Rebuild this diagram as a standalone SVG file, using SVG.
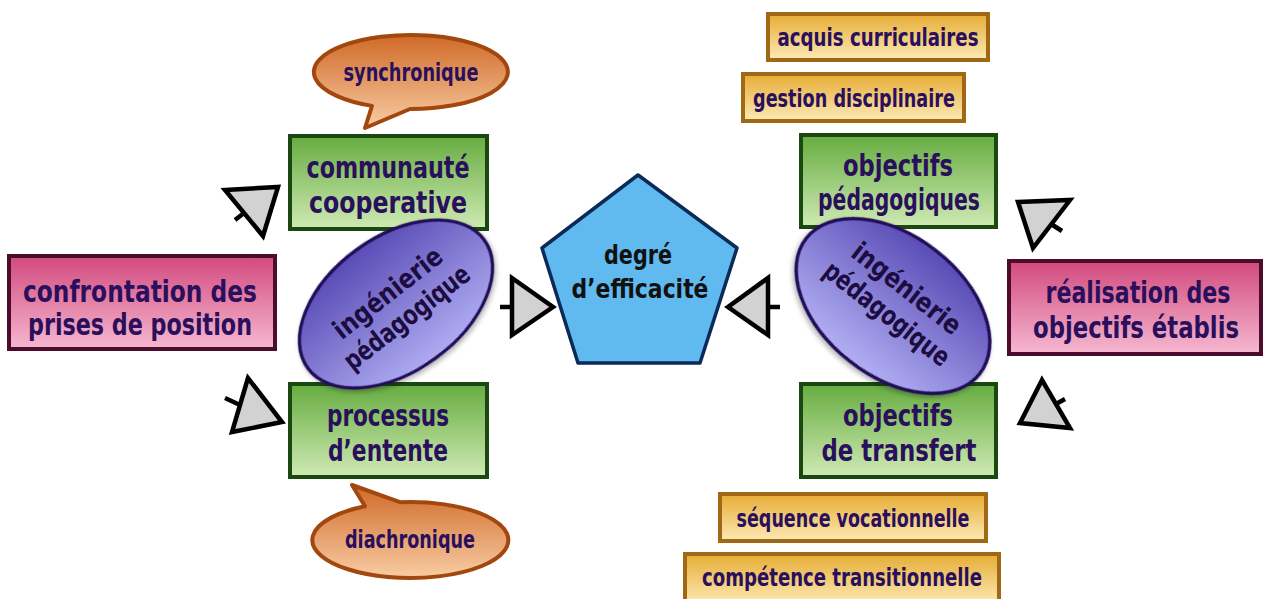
<svg xmlns="http://www.w3.org/2000/svg" width="1264" height="599" viewBox="0 0 1264 599">
<defs>
<linearGradient id="gGreen" x1="0" y1="0" x2="0" y2="1"><stop offset="0" stop-color="#66ac40"/><stop offset="1" stop-color="#cfeab4"/></linearGradient>
<linearGradient id="gPink" x1="0" y1="0" x2="0" y2="1"><stop offset="0" stop-color="#d24a7e"/><stop offset="1" stop-color="#f6b8d0"/></linearGradient>
<linearGradient id="gOrange" x1="0" y1="0" x2="0" y2="1"><stop offset="0" stop-color="#cf6a28"/><stop offset="1" stop-color="#f9cca4"/></linearGradient>
<linearGradient id="gGold" x1="0" y1="0" x2="0" y2="1"><stop offset="0" stop-color="#e6ac34"/><stop offset="1" stop-color="#fceab6"/></linearGradient>
<linearGradient id="gPurpleL" gradientUnits="userSpaceOnUse" x1="340" y1="235" x2="460" y2="380" gradientTransform="rotate(36 396 304)"><stop offset="0" stop-color="#4c3cac"/><stop offset="1" stop-color="#c2c2ff"/></linearGradient>
<linearGradient id="gPurpleR" gradientUnits="userSpaceOnUse" x1="950" y1="235" x2="830" y2="380" gradientTransform="rotate(-38 893 306)"><stop offset="0" stop-color="#4c3cac"/><stop offset="1" stop-color="#c2c2ff"/></linearGradient>
<filter id="shadow" x="-20%" y="-20%" width="140%" height="150%"><feDropShadow dx="0" dy="3" stdDeviation="2.5" flood-color="#000" flood-opacity="0.3"/></filter>
<style>
text{font-family:"DejaVu Sans Condensed","DejaVu Sans",sans-serif;font-weight:bold;fill:#2a0f5c;text-anchor:middle}
.green{fill:url(#gGreen);stroke:#1b4810;stroke-width:4}
.pink{fill:url(#gPink);stroke:#4c0c2c;stroke-width:4}
.gold{fill:url(#gGold);stroke:#a06814;stroke-width:4}
.bubble{fill:url(#gOrange);stroke:#a2480e;stroke-width:4;stroke-linejoin:round}
.oval{stroke:#24105a;stroke-width:3.5;filter:url(#shadow)}
.arrow{fill:#d2d2d2;stroke:#000;stroke-width:4.5;stroke-linejoin:miter}
.stub{stroke:#000;stroke-width:4.5;fill:none}
.big{font-size:30px}
.mid{font-size:27px}
.small{font-size:24px}
.ov{font-size:27px;fill:#1c0c40}
.dark{fill:#111}
</style>
</defs>
<rect width="1264" height="599" fill="#fff"/>

<g id="bubble-synchronique">
<path class="bubble" d="M 372,105.9 A 97 37 0 1 1 410,109 L 365,128 Z"/>
<text class="small" x="411" y="81" textLength="135" lengthAdjust="spacingAndGlyphs">synchronique</text>
</g>

<g id="bubble-diachronique">
<path class="bubble" d="M 365,506.3 L 352,485 L 400,502.2 A 98 38 0 1 1 365,506.3 Z"/>
<text class="small" x="410" y="548" textLength="130" lengthAdjust="spacingAndGlyphs">diachronique</text>
</g>

<g id="communaute">
<rect class="green" x="290" y="136" width="197" height="93"/>
<text class="big" x="388" y="178" textLength="163" lengthAdjust="spacingAndGlyphs">communauté</text>
<text class="big" x="388" y="213" textLength="158" lengthAdjust="spacingAndGlyphs">cooperative</text>
</g>

<g id="processus">
<rect class="green" x="290" y="384" width="197" height="93"/>
<text class="big" x="388" y="426" textLength="122" lengthAdjust="spacingAndGlyphs">processus</text>
<text class="big" x="388" y="461" textLength="120" lengthAdjust="spacingAndGlyphs">d’entente</text>
</g>

<g id="confrontation">
<rect class="pink" x="9" y="256" width="266" height="93"/>
<text class="big" x="140" y="302" textLength="234" lengthAdjust="spacingAndGlyphs">confrontation des</text>
<text class="big" x="140" y="335" textLength="224" lengthAdjust="spacingAndGlyphs">prises de position</text>
</g>

<g id="ingenierie-gauche">
<ellipse class="oval" cx="396" cy="304" rx="109" ry="67" transform="rotate(-36 396 304)" fill="url(#gPurpleL)"/>
<g transform="rotate(-38 397 305)">
<text class="ov" x="397" y="299" textLength="131" lengthAdjust="spacingAndGlyphs">ingénierie</text>
<text class="ov" x="397" y="330" textLength="152" lengthAdjust="spacingAndGlyphs">pédagogique</text>
</g>
</g>

<g id="degre">
<polygon points="638,175 737,248 700,363 578,363 542,248" fill="#60b9ef" stroke="#0b2a58" stroke-width="3.5" stroke-linejoin="round"/>
<text class="mid dark" x="638" y="264" textLength="68" lengthAdjust="spacingAndGlyphs">degré</text>
<text class="mid dark" x="640" y="298" textLength="137" lengthAdjust="spacingAndGlyphs">d’efficacité</text>
</g>

<g id="objectifs-pedagogiques">
<rect class="green" x="801" y="135" width="195" height="92"/>
<text class="big" x="898" y="176" textLength="110" lengthAdjust="spacingAndGlyphs">objectifs</text>
<text class="big" x="899" y="210" textLength="162" lengthAdjust="spacingAndGlyphs">pédagogiques</text>
</g>

<g id="objectifs-transfert">
<rect class="green" x="801" y="384" width="195" height="93"/>
<text class="big" x="898" y="426" textLength="110" lengthAdjust="spacingAndGlyphs">objectifs</text>
<text class="big" x="899" y="461" textLength="155" lengthAdjust="spacingAndGlyphs">de transfert</text>
</g>

<g id="ingenierie-droite">
<ellipse class="oval" cx="893" cy="306" rx="110" ry="70" transform="rotate(38 893 306)" fill="url(#gPurpleR)"/>
<g transform="rotate(38 893 306)">
<text class="ov" x="893" y="293" textLength="131" lengthAdjust="spacingAndGlyphs">ingénierie</text>
<text class="ov" x="893" y="325" textLength="152" lengthAdjust="spacingAndGlyphs">pédagogique</text>
</g>
</g>

<g id="realisation">
<rect class="pink" x="1009" y="261" width="252" height="93"/>
<text class="big" x="1138" y="303" textLength="185" lengthAdjust="spacingAndGlyphs">réalisation des</text>
<text class="big" x="1136" y="338" textLength="206" lengthAdjust="spacingAndGlyphs">objectifs établis</text>
</g>

<g id="acquis">
<rect class="gold" x="768" y="14" width="220" height="46"/>
<text class="small" x="878" y="46" textLength="201" lengthAdjust="spacingAndGlyphs">acquis curriculaires</text>
</g>
<g id="gestion">
<rect class="gold" x="743" y="74" width="221" height="47"/>
<text class="small" x="854" y="107" textLength="202" lengthAdjust="spacingAndGlyphs">gestion disciplinaire</text>
</g>
<g id="sequence">
<rect class="gold" x="720" y="494" width="266" height="47"/>
<text class="small" x="853" y="527" textLength="233" lengthAdjust="spacingAndGlyphs">séquence vocationnelle</text>
</g>
<g id="competence">
<rect class="gold" x="685" y="554" width="314" height="50"/>
<text class="small" x="842" y="586" textLength="280" lengthAdjust="spacingAndGlyphs">compétence transitionnelle</text>
</g>

<g id="connectors">
<line class="stub" x1="235" y1="220" x2="244" y2="213"/>
<polygon class="arrow" points="225,190 278,187 263,236"/>
<line class="stub" x1="225" y1="398" x2="240" y2="405"/>
<polygon class="arrow" points="248,378 232,432 282,422"/>
<line class="stub" x1="500" y1="307" x2="512" y2="307"/>
<polygon class="arrow" points="512,278 512,335 553,307"/>
<line class="stub" x1="768" y1="307" x2="780" y2="307"/>
<polygon class="arrow" points="768,278 768,335 728,307"/>
<line class="stub" x1="1051" y1="224" x2="1062" y2="231"/>
<polygon class="arrow" points="1018,202 1070,200 1033,248"/>
<line class="stub" x1="1056" y1="404" x2="1065" y2="399"/>
<polygon class="arrow" points="1042,380 1020,423 1070,428"/>
</g>
</svg>
